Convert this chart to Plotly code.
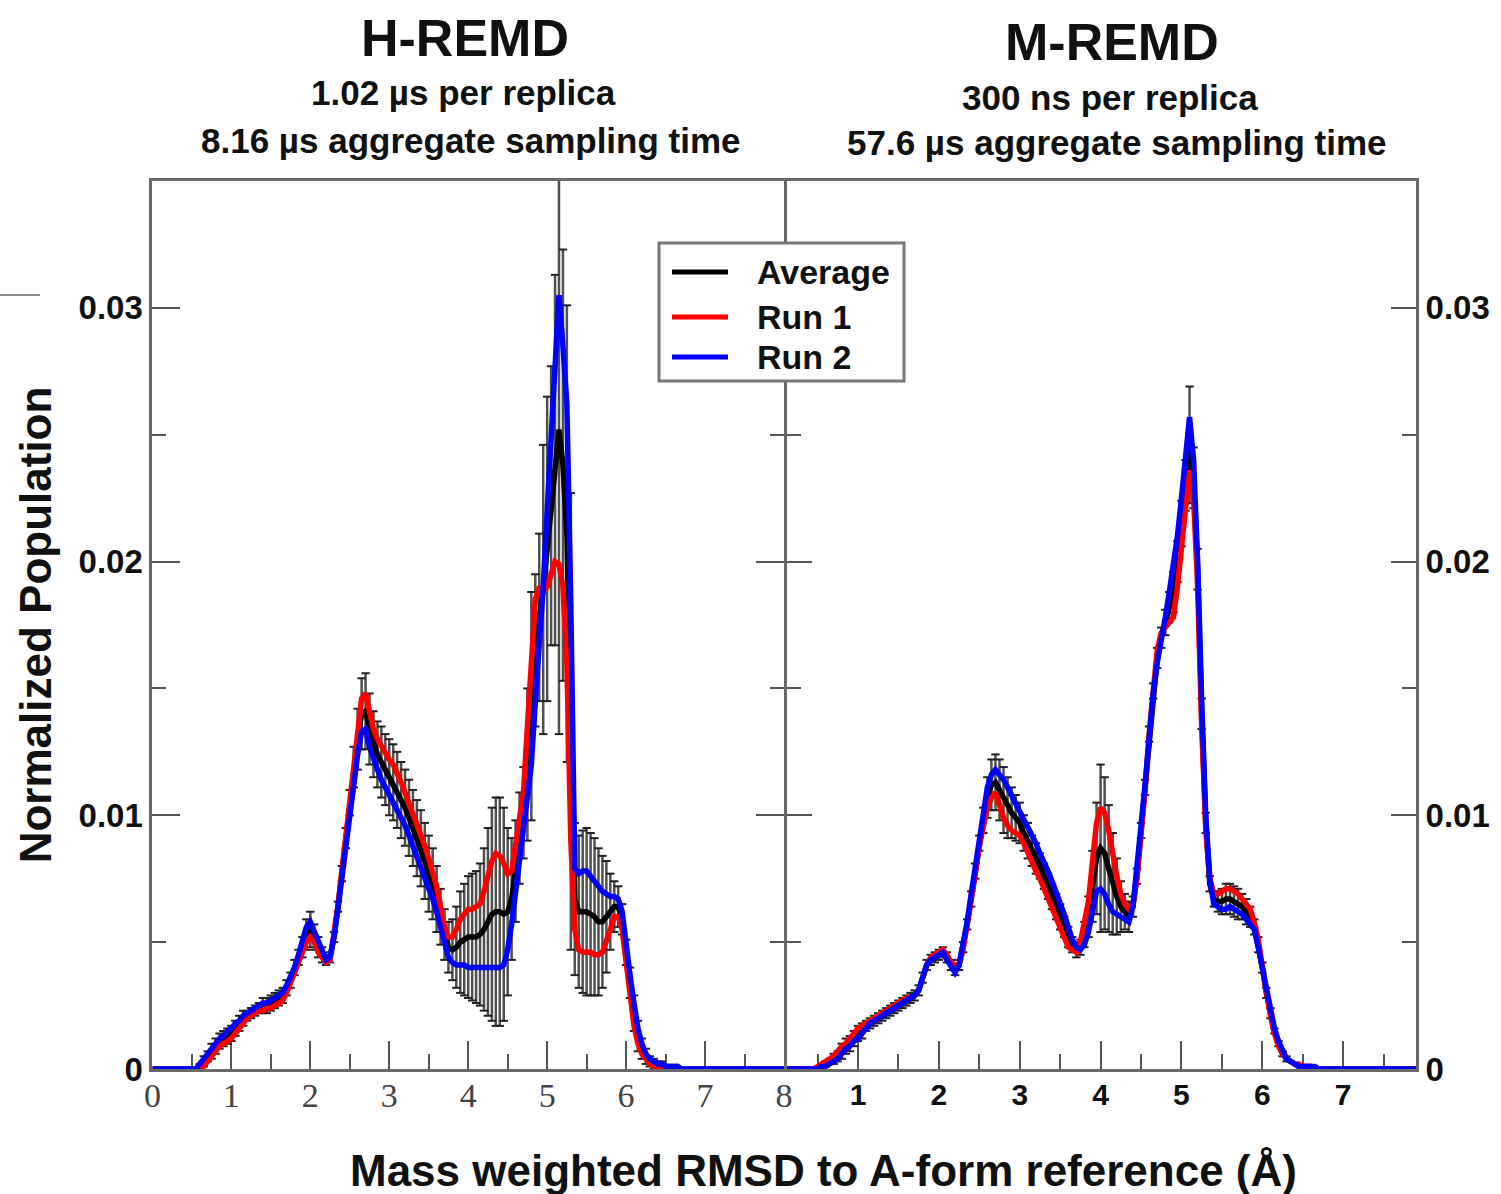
import plotly.graph_objects as go

# ---------------- data (RMSD bins, 0.05 A spacing from 0.45 to 6.80 A) ----------------
GRID = [round(0.45 + 0.05 * i, 2) for i in range(128)]
X = [0.0] + GRID + [8.0]

# H-REMD panel
H_RUN2 = [0, 0, 0, 0.0002, 0.0004, 0.0006, 0.0008, 0.0010, 0.0012, 0.0013,
          0.0015, 0.0016, 0.0018, 0.0019, 0.0021, 0.0022, 0.0023, 0.0024, 0.0025, 0.0026,
          0.0026, 0.0027, 0.0028, 0.0029, 0.0030, 0.0033, 0.0036, 0.0040, 0.0045, 0.0050,
          0.0056, 0.0058, 0.0054, 0.0050, 0.0046, 0.0043, 0.0044, 0.0052, 0.0063, 0.0075,
          0.0089, 0.0103, 0.0115, 0.0124, 0.0133, 0.0134, 0.0127, 0.0122, 0.0118, 0.0114,
          0.0111, 0.0108, 0.0106, 0.0103, 0.0099, 0.0096, 0.0092, 0.0088, 0.0084, 0.0080,
          0.0076, 0.0071, 0.0067, 0.0062, 0.0056, 0.0050, 0.0044, 0.0042, 0.0041, 0.0041,
          0.0041, 0.0040, 0.0040, 0.0040, 0.0040, 0.0040, 0.0040, 0.0040, 0.0040, 0.0040,
          0.0041, 0.0047, 0.0057, 0.0069, 0.0082, 0.0092, 0.0106, 0.0120, 0.0145, 0.0165,
          0.0190, 0.0220, 0.0248, 0.0278, 0.0305, 0.0285, 0.0262, 0.0183, 0.0079, 0.0077,
          0.0078, 0.0078, 0.0076, 0.0074, 0.0072, 0.0070, 0.0069, 0.0068, 0.0068, 0.0067,
          0.0062, 0.0048, 0.0037, 0.0026, 0.0016, 0.0010, 0.0006, 0.0004, 0.0003, 0.0002,
          0.0002, 0.0001, 0.0001, 0.0001, 0.0001, 0, 0, 0]

H_RUN1 = [0, 0, 0, 0, 0.0001, 0.0003, 0.0005, 0.0007, 0.0009, 0.0010,
          0.0011, 0.0012, 0.0014, 0.0016, 0.0018, 0.0020, 0.0021, 0.0022, 0.0023, 0.0023,
          0.0024, 0.0024, 0.0025, 0.0026, 0.0027, 0.0030, 0.0034, 0.0039, 0.0043, 0.0046,
          0.0050, 0.0052, 0.0050, 0.0046, 0.0044, 0.0042, 0.0043, 0.0052, 0.0064, 0.0078,
          0.0092, 0.0107, 0.0122, 0.0136, 0.0146, 0.0148, 0.0140, 0.0134, 0.0130, 0.0127,
          0.0124, 0.0122, 0.0120, 0.0117, 0.0113, 0.0109, 0.0105, 0.0101, 0.0097, 0.0093,
          0.0088, 0.0083, 0.0078, 0.0072, 0.0064, 0.0056, 0.0052, 0.0052, 0.0055, 0.0059,
          0.0061, 0.0063, 0.0063, 0.0064, 0.0065, 0.0070, 0.0076, 0.0082, 0.0085, 0.0084,
          0.0081, 0.0077, 0.0078, 0.0088, 0.0100, 0.0109, 0.0135, 0.0165, 0.0185, 0.0190,
          0.0188, 0.0190, 0.0195, 0.0200, 0.0199, 0.0190, 0.0160, 0.0090, 0.0055, 0.0047,
          0.0046, 0.0046, 0.0046, 0.0045, 0.0045, 0.0046, 0.0050, 0.0055, 0.0060, 0.0060,
          0.0055, 0.0043, 0.0030, 0.0017, 0.0010, 0.0006, 0.0004, 0.0002, 0.0001, 0.0001,
          0.0001, 0, 0, 0, 0, 0, 0, 0]

H_AVG = [0, 0, 0, 0.0001, 0.0003, 0.0005, 0.0007, 0.0009, 0.0011, 0.0012,
         0.0013, 0.0014, 0.0016, 0.0018, 0.0020, 0.0021, 0.0022, 0.0023, 0.0024, 0.0025,
         0.0025, 0.0026, 0.0027, 0.0028, 0.0029, 0.0032, 0.0035, 0.0040, 0.0044, 0.0048,
         0.0053, 0.0055, 0.0052, 0.0048, 0.0045, 0.0043, 0.0044, 0.0052, 0.0064, 0.0077,
         0.0091, 0.0105, 0.0119, 0.0130, 0.0140, 0.0141, 0.0134, 0.0128, 0.0124, 0.0121,
         0.0118, 0.0115, 0.0113, 0.0110, 0.0106, 0.0103, 0.0099, 0.0095, 0.0091, 0.0087,
         0.0082, 0.0077, 0.0073, 0.0067, 0.0060, 0.0053, 0.0048, 0.0047, 0.0048, 0.0050,
         0.0051, 0.0052, 0.0052, 0.0052, 0.0053, 0.0055, 0.0058, 0.0061, 0.0062, 0.0062,
         0.0061, 0.0062, 0.0067, 0.0078, 0.0091, 0.0101, 0.0120, 0.0143, 0.0165, 0.0178,
         0.0189, 0.0205, 0.0222, 0.0240, 0.0252, 0.0238, 0.0211, 0.0137, 0.0067, 0.0062,
         0.0062, 0.0062, 0.0061, 0.0060, 0.0058, 0.0058, 0.0060, 0.0062, 0.0064, 0.0064,
         0.0059, 0.0046, 0.0034, 0.0022, 0.0013, 0.0008, 0.0005, 0.0003, 0.0002, 0.0002,
         0.0002, 0.0001, 0.0001, 0.0001, 0.0001, 0, 0, 0]

H_ERR = [0, 0, 0, 0.0001, 0.0002, 0.0002, 0.0003, 0.0003, 0.0003, 0.0003,
         0.0003, 0.0003, 0.0003, 0.0003, 0.0003, 0.0002, 0.0002, 0.0002, 0.0002, 0.0003,
         0.0003, 0.0003, 0.0003, 0.0003, 0.0003, 0.0003, 0.0003, 0.0003, 0.0003, 0.0004,
         0.0006, 0.0007, 0.0005, 0.0004, 0.0003, 0.0002, 0.0002, 0.0002, 0.0002, 0.0003,
         0.0004, 0.0005, 0.0008, 0.0012, 0.0014, 0.0015, 0.0014, 0.0013, 0.0013, 0.0014,
         0.0014, 0.0015, 0.0015, 0.0015, 0.0015, 0.0015, 0.0015, 0.0015, 0.0015, 0.0015,
         0.0015, 0.0015, 0.0014, 0.0013, 0.0011, 0.0010, 0.0010, 0.0012, 0.0016, 0.0020,
         0.0022, 0.0024, 0.0025, 0.0026, 0.0028, 0.0032, 0.0037, 0.0042, 0.0045, 0.0045,
         0.0042, 0.0033, 0.0024, 0.0020, 0.0018, 0.0018, 0.0030, 0.0045, 0.0030, 0.0033,
         0.0057, 0.0060, 0.0055, 0.0073, 0.0120, 0.0085, 0.0090, 0.0090, 0.0030, 0.0030,
         0.0032, 0.0033, 0.0032, 0.0031, 0.0029, 0.0026, 0.0022, 0.0015, 0.0010, 0.0008,
         0.0006, 0.0005, 0.0006, 0.0007, 0.0006, 0.0004, 0.0003, 0.0002, 0.0002, 0.0001,
         0.0001, 0, 0, 0, 0, 0, 0, 0]

# M-REMD panel
M_RUN2 = [0, 0, 0.0001, 0.0001, 0.0002, 0.0003, 0.0004, 0.0006, 0.0008, 0.0009,
          0.0011, 0.0012, 0.0014, 0.0016, 0.0018, 0.0019, 0.0020, 0.0021, 0.0022, 0.0023,
          0.0024, 0.0025, 0.0026, 0.0027, 0.0028, 0.0029, 0.0031, 0.0036, 0.0041, 0.0043,
          0.0044, 0.0045, 0.0046, 0.0043, 0.0040, 0.0038, 0.0041, 0.0049, 0.0058, 0.0069,
          0.0080, 0.0090, 0.0101, 0.0111, 0.0116, 0.0118, 0.0116, 0.0114, 0.0111, 0.0108,
          0.0105, 0.0102, 0.0098, 0.0095, 0.0092, 0.0089, 0.0085, 0.0082, 0.0078, 0.0074,
          0.0070, 0.0066, 0.0061, 0.0056, 0.0051, 0.0048, 0.0047, 0.0049, 0.0054, 0.0062,
          0.0070, 0.0071, 0.0069, 0.0065, 0.0062, 0.0061, 0.0060, 0.0059, 0.0058, 0.0064,
          0.0078, 0.0096, 0.0112, 0.0132, 0.0148, 0.0160, 0.0168, 0.0178, 0.0188, 0.0199,
          0.0210, 0.0225, 0.0240, 0.0257, 0.0240, 0.0200, 0.0145, 0.0100, 0.0075, 0.0065,
          0.0064, 0.0063, 0.0063, 0.0064, 0.0063, 0.0062, 0.0061, 0.0059, 0.0057, 0.0055,
          0.0048, 0.0040, 0.0031, 0.0023, 0.0016, 0.0011, 0.0007, 0.0004, 0.0003, 0.0002,
          0.0001, 0.0001, 0.0001, 0.0001, 0.0001, 0, 0, 0]

M_RUN1 = [0, 0.0001, 0.0002, 0.0003, 0.0004, 0.0005, 0.0007, 0.0009, 0.0010, 0.0012,
          0.0014, 0.0016, 0.0017, 0.0018, 0.0019, 0.0020, 0.0021, 0.0022, 0.0023, 0.0024,
          0.0025, 0.0026, 0.0027, 0.0028, 0.0028, 0.0029, 0.0031, 0.0036, 0.0041, 0.0044,
          0.0045, 0.0046, 0.0047, 0.0045, 0.0042, 0.0041, 0.0041, 0.0047, 0.0056, 0.0066,
          0.0077, 0.0088, 0.0096, 0.0103, 0.0107, 0.0109, 0.0104, 0.0099, 0.0096, 0.0094,
          0.0093, 0.0092, 0.0089, 0.0085, 0.0081, 0.0078, 0.0075, 0.0071, 0.0067, 0.0063,
          0.0059, 0.0055, 0.0051, 0.0048, 0.0047, 0.0046, 0.0050, 0.0057, 0.0066, 0.0082,
          0.0097, 0.0103, 0.0101, 0.0094, 0.0084, 0.0076, 0.0069, 0.0065, 0.0063, 0.0065,
          0.0075, 0.0092, 0.0110, 0.0132, 0.0150, 0.0165, 0.0172, 0.0174, 0.0176, 0.0178,
          0.0190, 0.0205, 0.0220, 0.0236, 0.0225, 0.0190, 0.0135, 0.0095, 0.0075, 0.0069,
          0.0069, 0.0070, 0.0071, 0.0071, 0.0070, 0.0069, 0.0067, 0.0065, 0.0063, 0.0058,
          0.0051, 0.0040, 0.0030, 0.0021, 0.0014, 0.0009, 0.0006, 0.0004, 0.0003, 0.0002,
          0.0002, 0.0001, 0.0001, 0.0001, 0, 0, 0, 0]

M_AVG = [0, 0, 0.0001, 0.0002, 0.0003, 0.0004, 0.0005, 0.0007, 0.0009, 0.0010,
         0.0012, 0.0014, 0.0015, 0.0017, 0.0018, 0.0019, 0.0020, 0.0021, 0.0022, 0.0023,
         0.0024, 0.0025, 0.0026, 0.0027, 0.0028, 0.0029, 0.0031, 0.0036, 0.0041, 0.0043,
         0.0044, 0.0045, 0.0046, 0.0044, 0.0041, 0.0039, 0.0041, 0.0048, 0.0057, 0.0067,
         0.0078, 0.0089, 0.0098, 0.0107, 0.0112, 0.0113, 0.0110, 0.0106, 0.0103, 0.0101,
         0.0099, 0.0097, 0.0093, 0.0090, 0.0086, 0.0083, 0.0080, 0.0076, 0.0072, 0.0068,
         0.0064, 0.0060, 0.0056, 0.0052, 0.0049, 0.0047, 0.0048, 0.0053, 0.0060, 0.0072,
         0.0083, 0.0087, 0.0085, 0.0079, 0.0073, 0.0068, 0.0064, 0.0062, 0.0060, 0.0064,
         0.0076, 0.0094, 0.0111, 0.0132, 0.0149, 0.0162, 0.0170, 0.0176, 0.0182, 0.0188,
         0.0200, 0.0215, 0.0230, 0.0246, 0.0233, 0.0197, 0.0140, 0.0097, 0.0073, 0.0067,
         0.0066, 0.0066, 0.0067, 0.0067, 0.0066, 0.0065, 0.0064, 0.0062, 0.0060, 0.0056,
         0.0049, 0.0040, 0.0030, 0.0022, 0.0015, 0.0010, 0.0006, 0.0004, 0.0003, 0.0002,
         0.0001, 0.0001, 0.0001, 0.0001, 0, 0, 0, 0]

M_ERR = [0, 0, 0.0001, 0.0001, 0.0001, 0.0002, 0.0002, 0.0003, 0.0003, 0.0003,
         0.0003, 0.0003, 0.0003, 0.0002, 0.0002, 0.0002, 0.0002, 0.0002, 0.0002, 0.0002,
         0.0002, 0.0002, 0.0002, 0.0002, 0.0002, 0.0002, 0.0002, 0.0002, 0.0002, 0.0002,
         0.0002, 0.0002, 0.0002, 0.0002, 0.0002, 0.0002, 0.0002, 0.0002, 0.0002, 0.0003,
         0.0003, 0.0003, 0.0005, 0.0008, 0.0010, 0.0011, 0.0012, 0.0013, 0.0012, 0.0010,
         0.0009, 0.0008, 0.0007, 0.0007, 0.0006, 0.0006, 0.0005, 0.0005, 0.0005, 0.0005,
         0.0005, 0.0005, 0.0004, 0.0004, 0.0003, 0.0003, 0.0003, 0.0005, 0.0008, 0.0014,
         0.0022, 0.0033, 0.0030, 0.0025, 0.0020, 0.0015, 0.0010, 0.0007, 0.0006, 0.0004,
         0.0003, 0.0003, 0.0003, 0.0003, 0.0003, 0.0004, 0.0004, 0.0005, 0.0006, 0.0008,
         0.0008, 0.0009, 0.0010, 0.0023, 0.0012, 0.0008, 0.0006, 0.0004, 0.0003, 0.0003,
         0.0004, 0.0005, 0.0006, 0.0006, 0.0006, 0.0006, 0.0005, 0.0005, 0.0004, 0.0003,
         0.0003, 0.0002, 0.0002, 0.0002, 0.0001, 0.0001, 0.0001, 0.0001, 0, 0,
         0, 0, 0, 0, 0, 0, 0, 0]

SERIES_NAMES = ["Average", "Run 1", "Run 2"]
PANEL_TITLES = ["H-REMD", "M-REMD"]
PANEL_SUB1 = ["1.02 \u00b5s per replica", "300 ns per replica"]
PANEL_SUB2 = ["8.16 \u00b5s aggregate sampling time", "57.6 \u00b5s aggregate sampling time"]
X_TITLE = "Mass weighted RMSD to A-form reference (\u00c5)"
Y_TITLE = "Normalized Population"

# ---------------- styling ----------------
SANS = "Liberation Sans, Arial, sans-serif"
SERIF = "Liberation Serif, Times New Roman, serif"
COL = {"Average": "#000000", "Run 1": "#ff0000", "Run 2": "#0000ff"}
AXCOL = "#6a6a6a"
TICKCOL = "#555555"
W = 1501.0
H = 1194.0


def pad(v):
    return [0.0] + list(v) + [0.0]


fig = go.Figure()

panels = [
    ("x", "y", H_AVG, H_ERR, H_RUN1, H_RUN2),
    ("x2", "y2", M_AVG, M_ERR, M_RUN1, M_RUN2),
]
for xa, ya, avg, err, r1, r2 in panels:
    ex = [x for x, e in zip(GRID, err) if e > 0]
    ey = [a for a, e in zip(avg, err) if e > 0]
    ee = [e for e in err if e > 0]
    # error bars (gray sticks)
    fig.add_trace(go.Scatter(
        x=ex, y=ey, mode="markers", xaxis=xa, yaxis=ya, showlegend=False,
        marker=dict(size=1, color="rgba(0,0,0,0)"),
        error_y=dict(type="data", array=ee, visible=True, color="#505050",
                     thickness=2.5, width=0),
        hoverinfo="skip"))
    # caps
    fig.add_trace(go.Scatter(
        x=ex + ex, y=[a + e for a, e in zip(ey, ee)] + [a - e for a, e in zip(ey, ee)],
        mode="markers", xaxis=xa, yaxis=ya, showlegend=False,
        marker=dict(symbol="line-ew", size=6, line=dict(width=2, color="#222222")),
        hoverinfo="skip"))
    for name, vals in zip(SERIES_NAMES, [avg, r1, r2]):
        fig.add_trace(go.Scatter(
            x=X, y=pad(vals), mode="lines", name=name, xaxis=xa, yaxis=ya,
            showlegend=False, line=dict(color=COL[name], width=5.5)))

common = dict(showline=True, linecolor=AXCOL, linewidth=3, ticks="inside",
              tickcolor=TICKCOL, tickwidth=2, showgrid=False, zeroline=False,
              automargin=False, layer="below traces")
xminor = dict(dtick=0.5, ticklen=15, ticks="inside", tickcolor=TICKCOL, tickwidth=2)
yminor = dict(dtick=0.005, ticklen=14, ticks="inside", tickcolor=TICKCOL, tickwidth=2)
ytickfont = dict(family=SANS, size=33, color="#111", weight="bold")

XD1 = [152.4 / W, 784.0 / W]
XD2 = [787.0 / W, 1416.0 / W]
YD = [(H - 1069) / H, (H - 181) / H]

fig.update_layout(
    width=1501, height=1194, margin=dict(l=0, r=0, t=0, b=0),
    paper_bgcolor="white", plot_bgcolor="white", showlegend=False,
    xaxis=dict(domain=XD1, range=[0, 8], tick0=0, dtick=1, ticklen=28, minor=xminor,
               anchor="y", mirror=True, ticklabelstandoff=-6,
               tickfont=dict(family=SERIF, size=34, color="#444"), **common),
    yaxis=dict(domain=YD, range=[0, 0.035], tick0=0, dtick=0.01, ticklen=28,
               minor=yminor, anchor="x", mirror="allticks", tickfont=ytickfont,
               title=dict(text=Y_TITLE, standoff=14,
                          font=dict(family=SANS, size=44, color="#111", weight="bold")),
               **common),
    xaxis2=dict(domain=XD2, range=[0.1225, 7.9], tick0=0, dtick=1, ticklen=28, minor=xminor,
                anchor="y2", mirror=True, ticklabelstandoff=-3,
                tickfont=dict(family=SANS, size=30, color="#111", weight="bold"), **common),
    yaxis2=dict(domain=YD, range=[0, 0.035], tick0=0, dtick=0.01, ticklen=25,
                minor=yminor, anchor="x2", side="right", mirror="allticks",
                tickfont=ytickfont, **common),
)

ann = []
for i in range(2):
    ann.append(dict(text=PANEL_TITLES[i], x=[465, 1112][i] / W, y=1 - [38, 42][i] / H,
                    font=dict(family=SANS, size=52, color="#111", weight="bold")))
    ann.append(dict(text=PANEL_SUB1[i], x=[463, 1110][i] / W, y=1 - [93, 98][i] / H,
                    font=dict(family=SANS, size=35, color="#111", weight="bold")))
    ann.append(dict(text=PANEL_SUB2[i], x=[471, 1117][i] / W, y=1 - [140, 143][i] / H,
                    font=dict(family=SANS, size=35, color="#111", weight="bold")))
ann.append(dict(text=X_TITLE, x=823 / W, y=1 - 1170 / H,
                font=dict(family=SANS, size=44, color="#111", weight="bold")))
for a in ann:
    a.update(xref="paper", yref="paper", showarrow=False, xanchor="center", yanchor="middle")

# legend box (drawn as a framed key inside the left panel)
shapes = [dict(type="rect", xref="paper", yref="paper", x0=659 / W, x1=904 / W,
               y0=1 - 381 / H, y1=1 - 243 / H, line=dict(color="#777", width=3),
               fillcolor="white", layer="above")]
for name, ly in zip(SERIES_NAMES, [272, 317, 357]):
    shapes.append(dict(type="line", xref="paper", yref="paper", x0=672 / W, x1=728 / W,
                       y0=1 - ly / H, y1=1 - ly / H, layer="above",
                       line=dict(color=COL[name], width=5)))
    ann.append(dict(text=name, x=755 / W, y=1 - ly / H, xref="paper", yref="paper",
                    showarrow=False, xanchor="left", yanchor="middle",
                    font=dict(family=SANS, size=34, color="#111", weight="bold")))
# small stray rule at the top-left edge of the original figure
shapes.append(dict(type="line", xref="paper", yref="paper", x0=0, x1=40 / W,
                   y0=1 - 295 / H, y1=1 - 295 / H, line=dict(color="#666", width=1.5)))

fig.update_layout(annotations=ann, shapes=shapes)

fig.write_html("out.html")
